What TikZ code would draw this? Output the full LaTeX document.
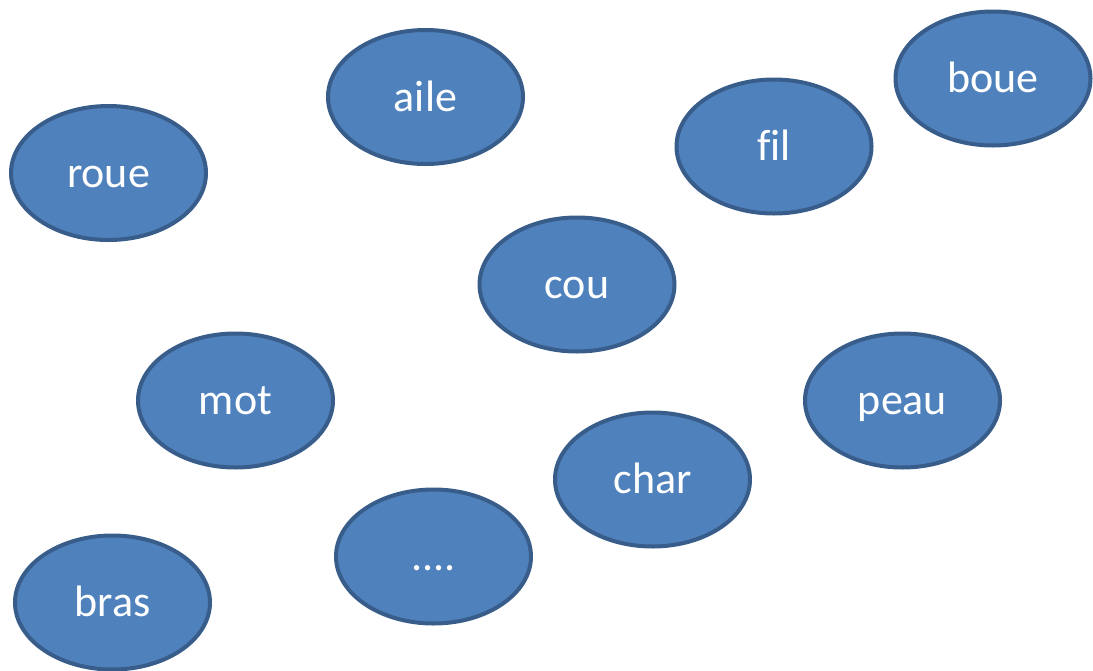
\documentclass[tikz,border=0pt]{standalone}
\usepackage{fontspec}
\setmainfont[Ligatures=NoCommon]{Carlito}
\usetikzlibrary{shapes.geometric}
\definecolor{ovalfill}{HTML}{4F81BD}
\definecolor{ovalline}{HTML}{385D8A}
\tikzset{
  word/.style={ellipse, draw=ovalline, fill=ovalfill, line width=4pt,
    minimum width=195pt, minimum height=134pt, inner sep=0pt,
    text=white, font=\fontsize{44}{52}\selectfont,
    text height=32pt, text depth=4pt}
}
\begin{document}
\begin{tikzpicture}[x=1pt,y=-1pt]
\useasboundingbox (0,0) rectangle (1093,670);
\node[word] (aile) at (425.5,97) {aile};
\node[word] (roue) at (108.5,173) {roue};
\node[word] (fil)  at (774,146.5) {fil};
\node[word] (boue) at (993,78.5) {boue};
\node[word] (cou)  at (577,284.5) {cou};
\node[word] (mot)  at (235.5,400.5) {mot};
\node[word] (peau) at (902.5,400.5) {peau};
\node[word] (char) at (652.5,479.5) {char};
\node[word] (dots) at (433.5,556.5) {....};
\node[word] (bras) at (112.5,602.5) {bras};
\end{tikzpicture}
\end{document}
